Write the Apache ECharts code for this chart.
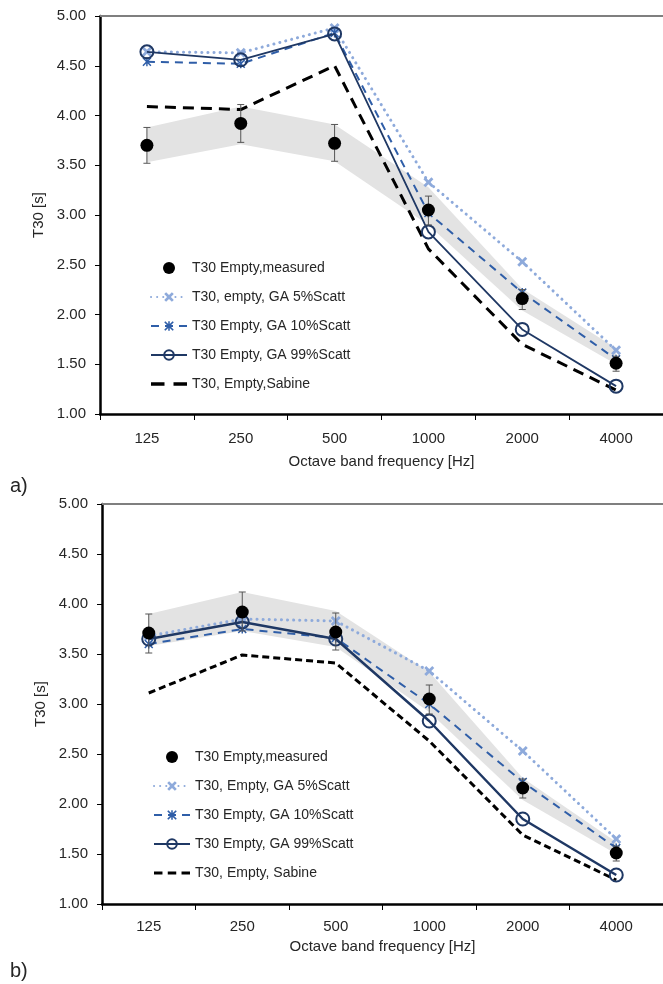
<!DOCTYPE html>
<html><head><meta charset="utf-8">
<script src="https://cdn.jsdelivr.net/npm/echarts@6/dist/echarts.min.js"></script>
<style>html,body{margin:0;padding:0;background:#fff}#c{width:663px;height:984px}</style>
</head><body><div id="c"></div>
<script>
const categories = ['125', '250', '500', '1000', '2000', '4000'];
const yTicks = [1.0, 1.5, 2.0, 2.5, 3.0, 3.5, 4.0, 4.5, 5.0];

// chart a)
const measuredA = [3.70, 3.92, 3.72, 3.05, 2.16, 1.51];
const errLowA   = [3.52, 3.73, 3.54, 2.90, 2.05, 1.43];
const errHighA  = [3.88, 4.11, 3.91, 3.19, 2.25, 1.58];
const bandLowA  = [3.53, 3.71, 3.54, 2.90, 2.04, 1.50];
const bandHighA = [3.88, 4.09, 3.91, 3.28, 2.26, 1.66];
const ga5A   = [4.64, 4.63, 4.88, 3.33, 2.53, 1.64];
const ga10A  = [4.54, 4.52, 4.83, 3.02, 2.22, 1.55];
const ga99A  = [4.64, 4.56, 4.82, 2.83, 1.85, 1.28];
const sabineA = [4.09, 4.06, 4.50, 2.66, 1.70, 1.24];

// chart b)
const measuredB = [3.71, 3.92, 3.72, 3.05, 2.16, 1.51];
const errLowB   = [3.51, 3.73, 3.54, 2.90, 2.06, 1.43];
const errHighB  = [3.90, 4.12, 3.91, 3.19, 2.25, 1.58];
const bandLowB  = [3.58, 3.73, 3.57, 2.92, 2.04, 1.50];
const bandHighB = [3.90, 4.12, 3.93, 3.32, 2.26, 1.62];
const ga5B   = [3.68, 3.85, 3.83, 3.33, 2.53, 1.65];
const ga10B  = [3.60, 3.75, 3.66, 3.00, 2.22, 1.56];
const ga99B  = [3.65, 3.82, 3.65, 2.83, 1.85, 1.29];
const sabineB = [3.11, 3.49, 3.41, 2.63, 1.69, 1.24];

const namesA = ['T30 Empty,measured', 'T30, empty, GA 5%Scatt', 'T30 Empty, GA 10%Scatt', 'T30 Empty, GA 99%Scatt', 'T30, Empty,Sabine'];
const namesB = ['T30 Empty,measured', 'T30, Empty, GA 5%Scatt', 'T30 Empty, GA 10%Scatt', 'T30 Empty, GA 99%Scatt', 'T30, Empty, Sabine'];

const C5 = '#8eaadb', C10 = '#2f5ea8', C99 = '#1f3864';
const XSYM = 'path://M0,2 L2,0 L5,3 L8,0 L10,2 L7,5 L10,8 L8,10 L5,7 L2,10 L0,8 L3,5 Z';
const ASYM = 'path://M0,1.2 L1.2,0 L5,3.8 L8.8,0 L10,1.2 L6.2,5 L10,8.8 L8.8,10 L5,6.2 L1.2,10 L0,8.8 L3.8,5 Z M4.2,0 L5.8,0 L5.8,10 L4.2,10 Z';
const DASH2 = 'path://M2,0 L14,0 L14,3 L2,3 Z M22,0 L34,0 L34,3 L22,3 Z';
const DASH3 = 'path://M0,0 L8,0 L8,3 L0,3 Z M13,0 L21,0 L21,3 L13,3 Z M26,0 L34,0 L34,3 L26,3 Z';
const FONT = 'Liberation Sans, Arial, sans-serif';
const TXT = '#262626';

const chart = echarts.init(document.getElementById('c'), null, {renderer: 'canvas'});

function buildSeries(g, d) {
  const xi = g * 2, yi = g;
  const thick = g === 1;
  return [
    { type: 'custom', xAxisIndex: xi, yAxisIndex: yi, silent: true, z: 1,
      data: [[0, d.bandLow[0]]],
      renderItem: function (params, api) {
        const pts = [];
        for (let i = 0; i < categories.length; i++) pts.push(api.coord([i, d.bandHigh[i]]));
        for (let i = categories.length - 1; i >= 0; i--) pts.push(api.coord([i, d.bandLow[i]]));
        return { type: 'polygon', shape: { points: pts }, style: { fill: '#e3e3e3' } };
      } },
    { name: d.names[4], type: 'line', xAxisIndex: xi, yAxisIndex: yi, data: d.sabine, z: 3,
      symbol: 'none', color: '#000',
      lineStyle: { color: '#000', width: 3, type: thick ? [7, 4] : [11, 7] } },
    { name: d.names[1], type: 'line', xAxisIndex: xi, yAxisIndex: yi, data: d.ga5, z: 4,
      symbol: XSYM, symbolSize: 10, color: C5,
      itemStyle: { color: C5 },
      lineStyle: { color: C5, width: 3, type: [0.1, 6], cap: 'round' } },
    { name: d.names[2], type: 'line', xAxisIndex: xi, yAxisIndex: yi, data: d.ga10, z: 5,
      symbol: ASYM, symbolSize: 9, color: C10,
      itemStyle: { color: C10 },
      lineStyle: { color: C10, width: 2, type: [8, 6] } },
    { name: d.names[3], type: 'line', xAxisIndex: xi, yAxisIndex: yi, data: d.ga99, z: 6,
      symbol: 'circle', symbolSize: 13, color: C99,
      itemStyle: { color: 'rgba(255,255,255,0)', borderColor: C99, borderWidth: 2 },
      lineStyle: { color: C99, width: thick ? 2.5 : 1.8 } },
    { type: 'custom', xAxisIndex: xi, yAxisIndex: yi, silent: true, z: 7,
      data: categories.map((c, i) => [i, d.errLow[i], d.errHigh[i]]),
      renderItem: function (params, api) {
        const lo = api.coord([api.value(0), api.value(1)]);
        const hi = api.coord([api.value(0), api.value(2)]);
        const st = { stroke: '#555', lineWidth: 1 };
        return { type: 'group', children: [
          { type: 'line', shape: { x1: lo[0], y1: lo[1], x2: hi[0], y2: hi[1] }, style: st },
          { type: 'line', shape: { x1: lo[0] - 3.5, y1: lo[1], x2: lo[0] + 3.5, y2: lo[1] }, style: st },
          { type: 'line', shape: { x1: hi[0] - 3.5, y1: hi[1], x2: hi[0] + 3.5, y2: hi[1] }, style: st }
        ] };
      } },
    { name: d.names[0], type: 'scatter', xAxisIndex: xi, yAxisIndex: yi, data: d.measured, z: 8,
      symbol: 'circle', symbolSize: 13, color: '#000', itemStyle: { color: '#000', opacity: 1 } }
  ];
}

const dA = { measured: measuredA, errLow: errLowA, errHigh: errHighA, bandLow: bandLowA, bandHigh: bandHighA,
  ga5: ga5A, ga10: ga10A, ga99: ga99A, sabine: sabineA, names: namesA };
const dB = { measured: measuredB, errLow: errLowB, errHigh: errHighB, bandLow: bandLowB, bandHigh: bandHighB,
  ga5: ga5B, ga10: ga10B, ga99: ga99B, sabine: sabineB, names: namesB };

function xBottom(g) {
  return { type: 'category', gridIndex: g, data: categories, position: 'bottom', boundaryGap: true,
    axisLine: { lineStyle: { color: '#000', width: 2.5 } },
    axisTick: { show: true, inside: false, length: 6, interval: 0, lineStyle: { color: '#000', width: 1 } },
    axisLabel: { fontSize: 15, color: TXT, fontFamily: FONT, margin: g === 0 ? 17 : 15 },
    name: 'Octave band frequency [Hz]', nameLocation: 'middle', nameGap: g === 0 ? 40 : 35,
    nameTextStyle: { fontSize: 15, color: TXT, fontFamily: FONT },
    splitLine: { show: false } };
}
function xTop(g) {
  return { type: 'category', gridIndex: g, data: categories, position: 'top',
    axisLine: { show: true, lineStyle: { color: '#7f7f7f', width: 2 } },
    axisTick: { show: false }, axisLabel: { show: false }, splitLine: { show: false } };
}
function yAx(g) {
  return { type: 'value', gridIndex: g, min: yTicks[0], max: yTicks[yTicks.length - 1], interval: 0.5,
    axisLine: { show: true, lineStyle: { color: '#000', width: 2.5 } },
    axisTick: { show: true, length: 5, lineStyle: { color: '#000', width: 1 } },
    axisLabel: { fontSize: 15, color: TXT, fontFamily: FONT, margin: 14, formatter: v => v.toFixed(2) },
    splitLine: { show: false },
    name: 'T30 [s]', nameLocation: 'middle', nameGap: 33,
    nameTextStyle: { fontSize: 15, color: TXT, fontFamily: FONT } };
}
function legend(names, left, top, dashIcon) {
  return { show: true, orient: 'vertical', left: left, top: top, itemWidth: 36, itemHeight: 12, itemGap: 15,
    symbolKeepAspect: true,
    data: names.map((n, i) => i === 4 ? { name: n, icon: dashIcon, itemStyle: { color: '#000' } } : { name: n }),
    textStyle: { fontSize: 14, color: TXT, fontFamily: FONT },
    selectedMode: false };
}

chart.setOption({
  animation: false,
  backgroundColor: '#fff',
  grid: [
    { left: 100, right: 0, top: 16, height: 398 },
    { left: 102, right: 0, top: 504, height: 400 }
  ],
  xAxis: [xBottom(0), xTop(0), xBottom(1), xTop(1)],
  yAxis: [yAx(0), yAx(1)],
  legend: [legend(namesA, 145, 256, DASH2), legend(namesB, 148, 745, DASH3)],
  graphic: [
    { type: 'text', left: 10, top: 476, style: { text: 'a)', fontSize: 20, fill: TXT, fontFamily: FONT } },
    { type: 'text', left: 10, top: 961, style: { text: 'b)', fontSize: 20, fill: TXT, fontFamily: FONT } }
  ],
  series: buildSeries(0, dA).concat(buildSeries(1, dB))
});
</script>
</body></html>
